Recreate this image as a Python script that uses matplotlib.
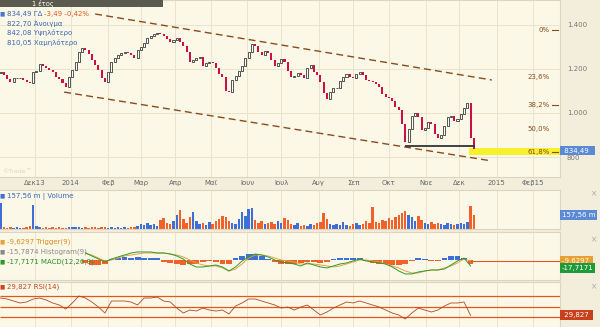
import numpy as np
import pandas as pd
import matplotlib
matplotlib.use('Agg')
import matplotlib.pyplot as plt
from matplotlib.patches import Rectangle

W, H = 600, 327

# closes, one candle every second trading day from 1 Nov 2013
closes = [1186, 1173, 1155, 1141, 1159, 1159, 1159, 1150, 1141, 1136,
          1186, 1191, 1223, 1214, 1205, 1195, 1186, 1164, 1155, 1136,
          1118, 1164, 1195, 1232, 1277, 1295, 1286, 1268, 1241, 1218,
          1195, 1159, 1141, 1186, 1232, 1250, 1264, 1273, 1277, 1273,
          1264, 1250, 1286, 1300, 1318, 1341, 1350, 1359, 1364, 1359,
          1350, 1336, 1323, 1332, 1341, 1323, 1305, 1277, 1232, 1241,
          1250, 1255, 1214, 1227, 1232, 1227, 1205, 1177, 1164, 1100,
          1095, 1150, 1168, 1191, 1214, 1250, 1277, 1314, 1305, 1277,
          1264, 1282, 1273, 1241, 1214, 1227, 1245, 1232, 1191, 1164,
          1168, 1182, 1173, 1159, 1205, 1218, 1186, 1173, 1141, 1091,
          1064, 1095, 1114, 1114, 1145, 1164, 1177, 1164, 1159, 1177,
          1186, 1173, 1150, 1145, 1141, 1132, 1118, 1086, 1073, 1068,
          1055, 1027, 1014, 950, 868, 927, 986, 1000, 982, 923,
          932, 959, 950, 905, 886, 900, 941, 982, 986, 964,
          973, 995, 1023, 1045, 886, 834.49]
first_open = 1180

# volume in millions, same candles
volumes = [290, 20, 15, 22, 12, 18, 15, 10, 20, 30,
           270, 30, 20, 16, 22, 12, 18, 10, 20, 15,
           12, 18, 28, 22, 20, 15, 18, 12, 20, 22,
           14, 20, 18, 15, 20, 12, 18, 14, 20, 16,
           20, 25, 30, 55, 45, 70, 45, 55, 35, 100,
           125, 70, 55, 90, 160, 215, 115, 70, 135, 190,
           90, 55, 70, 45, 80, 55, 90, 115, 145, 135,
           90, 70, 55, 115, 190, 145, 225, 235, 100, 70,
           90, 55, 70, 80, 55, 90, 70, 125, 100, 55,
           45, 70, 35, 45, 35, 55, 45, 70, 80, 180,
           115, 55, 45, 55, 45, 80, 45, 35, 55, 70,
           45, 55, 90, 70, 250, 80, 70, 100, 90, 125,
           100, 135, 160, 180, 200, 160, 135, 90, 145, 100,
           70, 55, 80, 55, 70, 55, 45, 70, 55, 45,
           55, 70, 55, 80, 260, 157.56]

# MACD(12,26,9), every fourth trading day from mid January 2014
macd_line = [3.2, -1.6, -6.5, -11.3, -6.5, -3.2, 0.0, 3.2, 4.9, 4.9,
             4.9, 3.2, 3.2, 1.6, -1.6, -6.5, -14.6, -19.4, -19.4, -17.8,
             -16.2, -19.4, -25.9, -19.4, -9.7, -3.2, 1.6, 0.0, -3.2, -8.1,
             -11.3, -12.9, -14.6, -17.8, -12.9, -16.2, -19.4, -21.0, -17.8, -14.6,
             -12.9, -9.7, -6.5, -9.7, -11.3, -12.9, -14.6, -19.4, -25.9, -30.7,
             -30.7, -27.5, -25.9, -24.3, -24.3, -22.7, -16.2, -9.7, -4.9, -17.7]
macd_trigger = [3.2, 0.0, -4.9, -9.7, -8.1, -4.9, -1.6, 0.0, 1.6, 3.2,
                3.2, 3.2, 3.2, 1.6, 0.0, -3.2, -8.1, -12.9, -16.2, -17.8,
                -17.8, -21.0, -25.9, -22.7, -14.6, -4.9, 0.0, 0.0, -1.6, -4.9,
                -8.1, -9.7, -11.3, -14.6, -14.6, -14.6, -16.2, -17.8, -19.4, -17.8,
                -14.6, -11.3, -8.1, -8.1, -9.7, -11.3, -14.6, -17.8, -21.0, -25.9,
                -29.1, -29.1, -25.9, -24.3, -24.3, -21.0, -17.8, -12.9, -6.5, -9.63]
macd_hist = [-5, -8, -8, -6, 2, 4, 5, 4, 5, 4,
             4, 3, -3, -5, -6, -8, -7, -6, -4, -2,
             -3, -6, -6, 3, 7, 10, 9, 6, 2, -4,
             -6, -7, -6, -5, -4, -3, -5, -4, 2, 4,
             4, 4, 3, -2, -5, -6, -7, -8, -8, -6,
             -2, 3, 1, -2, -1, 3, 6, 6, 4, -7]

# RSI(14), every fourth trading day from 1 Nov 2013
rsi = [66.2, 64.3, 60.5, 56.7, 58.6, 64.3, 66.2, 62.4, 56.7, 52.9,
       45.2, 56.7, 70.0, 66.2, 58.6, 49.0, 37.6, 60.5, 60.5, 60.5,
       58.6, 52.9, 66.2, 66.2, 68.1, 60.5, 58.6, 47.1, 37.6, 43.3,
       41.4, 47.1, 43.3, 41.4, 43.3, 35.7, 51.0, 56.7, 64.3, 64.3,
       60.5, 56.7, 52.9, 47.1, 49.0, 43.3, 49.0, 52.9, 43.3, 33.8,
       39.5, 47.1, 52.9, 58.6, 56.7, 60.5, 56.7, 52.9, 49.0, 43.3,
       37.6, 33.8, 26.2, 37.6, 47.1, 43.3, 39.5, 43.3, 51.0, 56.7,
       56.7, 58.6, 33.0]

month_labels = ['Δεκ13', '2014', 'Φεβ', 'Μαρ', 'Απρ', 'Μαϊ', 'Ιουν', 'Ιουλ',
                'Αυγ', 'Σεπ', 'Οκτ', 'Νοε', 'Δεκ', '2015', 'Φεβ15']

fib_values = [1377, 1165, 1035, 929, 823]
fib_labels = ['0%', '23,6%', '38,2%', '50,0%', '61,8%']
fib_dash = [True, False, True, False, True]

upper_trend = (['2014-01-22', '2014-12-29'], [1450, 1150])
lower_trend = (['2013-12-26', '2014-12-29'], [1095, 782])
support = (['2014-10-15', '2014-12-15'], 850)
last_range = (810.05, 842.08)

START = np.datetime64('2013-11-01')


def bday(dates):
    return np.busday_count(START, np.array(dates, dtype='datetime64[D]'))


BG = '#fcf8e8'
STRIP = '#f3eedb'
GRID = '#ebe4cd'
BROWN = '#8b4a1c'
XMIN, XMAX = -0.3, 342.8

fig = plt.figure(figsize=(W / 100, H / 100), dpi=100)
fig.patch.set_facecolor(STRIP)
plt.rcParams['font.family'] = 'DejaVu Sans'

month_dates = pd.date_range('2013-12-01', '2015-02-28', freq='BMS')
month_pos = bday(month_dates.values.astype('datetime64[D]'))


def panel(top, bottom):
    ax = fig.add_axes([0, 1 - bottom / H, 560 / W, (bottom - top) / H])
    ax.set_facecolor(BG)
    ax.set_xlim(XMIN, XMAX)
    ax.set_axisbelow(True)
    ax.set_xticks(month_pos)
    ax.tick_params(length=0, labelbottom=False, labelleft=False)
    ax.grid(axis='x', color=GRID, lw=0.7)
    for side, sp in ax.spines.items():
        sp.set_color('#dcd4bc')
        sp.set_linewidth(0.8)
        sp.set_visible(side in ('right', 'bottom', 'top'))
    return ax


def ftext(x, y, s, **kw):
    kw.setdefault('fontsize', 5)
    kw.setdefault('va', 'center')
    return fig.text(x / W, 1 - y / H, s, **kw)


def tag(y, s, color, fc, x=562):
    ftext(x, y, s, color=color, fontsize=5,
          bbox=dict(boxstyle='square,pad=0.25', fc=fc, ec='none'))


# ---- price panel ----
ax = panel(0, 177)
ax.set_ylim(709.1, 1513.6)
pos = np.arange(len(closes)) * 2
c = np.array(closes, dtype=float)
o = np.r_[first_open, c[:-1]]
up = c >= o
ax.bar(pos[up], (c - o)[up], bottom=o[up], width=1.25, facecolor='white',
       edgecolor='#111111', linewidth=0.5, zorder=3)
ax.bar(pos[~up], (c - o)[~up], bottom=o[~up], width=1.25, color='#cc1044',
       linewidth=0, zorder=3)

for dates, vals in (upper_trend, lower_trend):
    ax.plot(bday(dates), vals, color=BROWN, lw=1, ls=(0, (5, 3)), zorder=2)
ax.hlines(support[1], *bday(support[0]), color='#333333', lw=1.3, zorder=4)
ax.fill_between([pos[-1] - 3, XMAX], *last_range, color='#f7f02c', lw=0, zorder=1)

ax.set_yticks([800, 1000, 1200, 1400])
ax.set_yticklabels(['800', '1.000', '1.200', '1.400'])
ax.yaxis.tick_right()
ax.tick_params(axis='y', labelright=True, labelsize=5, labelcolor='#777777', pad=5)
ax.grid(axis='y', color=GRID, lw=0.7)
ax.set_xticklabels(month_labels)
ax.tick_params(axis='x', labelbottom=True, labelsize=5, labelcolor='#666666', pad=2.5)

ytr = ax.get_yaxis_transform()
for v, lab, dash in zip(fib_values, fib_labels, fib_dash):
    ax.text(0.982, v, lab, transform=ytr, ha='right', va='center', fontsize=5, color=BROWN)
    if dash:
        ax.plot([0.986, 0.997], [v, v], transform=ytr, color=BROWN, lw=0.8)

ax.text(0.004, 0.02, '©Trade™', transform=ax.transAxes, fontsize=4.5, color='#ddd5bd')

# ---- volume panel ----
axv = panel(190, 229)
axv.set_ylim(0, 439)
vol_colors = np.where(up, '#3f6fd6', '#f2612a')
axv.bar(pos, volumes, width=1.5, color=vol_colors, linewidth=0)
axv.set_yticks([])

# ---- MACD panel ----
axh = panel(232, 280)
axh.set_ylim(-32.4, 45.3)
axh.set_yticks([])
mpos = 52 + np.arange(len(macd_line)) * 4
hist = np.array(macd_hist, dtype=float)
axh.bar(mpos, hist, width=3.6, color=np.where(hist >= 0, '#3f6fd6', '#f2612a'), linewidth=0)
axm = axh.twinx()
axm.set_xlim(XMIN, XMAX)
axm.set_ylim(-40.5, 37.2)
axm.set_yticks([])
for sp in axm.spines.values():
    sp.set_visible(False)
axm.plot(mpos, macd_trigger, color='#e8a040', lw=0.7)
axm.plot(mpos, macd_line, color='#2e9b2e', lw=0.7)
axm.hlines(macd_trigger[-1], mpos[-1], XMAX, color='#e0581c', lw=0.8)

# ---- RSI panel ----
axr = panel(282, 327)
axr.set_ylim(10.95, 96.7)
axr.set_yticks([])
axr.hlines([70, 50, 30], XMIN, XMAX, color='#e0581c', lw=0.9)
axr.plot(np.arange(len(rsi)) * 4, rsi, color='#b5461f', lw=0.6)

# ---- header, legends, tags ----
fig.add_artist(Rectangle((0, 1 - 7 / H), 163 / W, 7 / H, transform=fig.transFigure,
                         color='#5a5a4e', lw=0))
ftext(43, 3.5, '1 έτος', color='white', ha='center', fontsize=4.8)

ftext(0, 14, '■', color='#4a78c8', fontsize=4)
ftext(7, 14, '834,49 ΓΔ', color='#3a66b0')
ftext(44, 14, '-3,49 -0,42%', color='#e0581c')
ftext(7, 24, '822,70 Άνοιγμα', color='#3a66b0')
ftext(7, 33, '842,08 Υψηλότερο', color='#3a66b0')
ftext(7, 42, '810,05 Χαμηλότερο', color='#3a66b0')

ftext(0, 196, '■', color='#3f6fd6', fontsize=4)
ftext(7, 196, '157,56 m | Volume', color='#3a66b0')

ftext(0, 242, '■', color='#e8a040', fontsize=4)
ftext(7, 242, '-9,6297 Trigger(9)', color='#e08a20')
ftext(0, 252, '■', color='#888888', fontsize=4)
ftext(7, 252, '-15,7874 Histogram(9)', color='#888888')
ftext(0, 262, '■', color='#2e9b2e', fontsize=4)
ftext(7, 262, '-17,7171 MACD(12,26,9)', color='#2a8a2a')

ftext(0, 287, '■', color='#d0461c', fontsize=4)
ftext(7, 287, '29,827 RSI(14)', color='#c8401c')

tag(150.6, ' 834,49  ', 'white', '#5a8ad6')
tag(215, '157,56 m', 'white', '#5a8ad6')
tag(261, '-9,6297 ', 'white', '#e8a030')
tag(268, '-17,7171', 'white', '#1f9a3a')
tag(315, ' 29,827 ', 'white', '#c8401c')

for y in (194, 240, 287):
    ftext(594, y, '×', color='#aaaaaa', fontsize=5.5, ha='center')

fig.savefig('out.png', dpi=100, facecolor=fig.get_facecolor())
